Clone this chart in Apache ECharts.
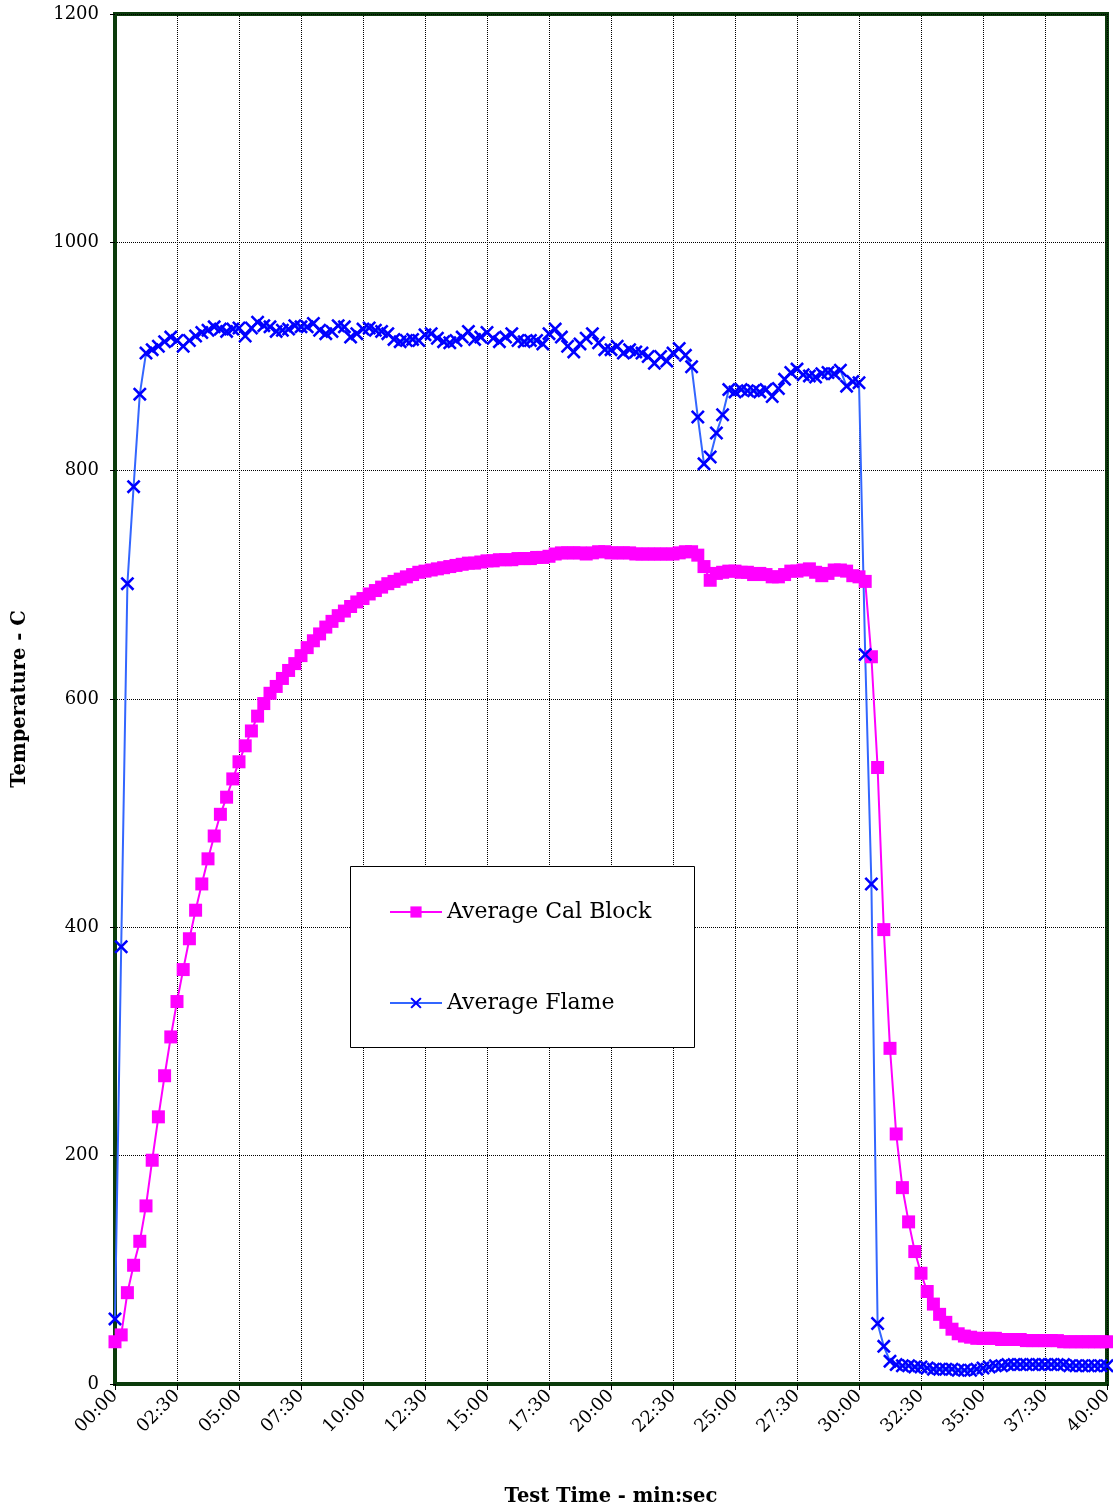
<!DOCTYPE html>
<html><head><meta charset="utf-8">
<script src="https://cdn.jsdelivr.net/npm/echarts@6/dist/echarts.min.js"></script>
<style>html,body{margin:0;padding:0;background:#fff}#c{width:1113px;height:1511px}</style>
</head><body><div id="c"></div>
<script>
// Sample times every 15 s from 00:00 to 40:00 (category labels)
const timeLabels = [];
for (let i = 0; i <= 160; i++) {
  const s = i * 15;
  timeLabels.push(String(Math.floor(s / 60)).padStart(2, '0') + ':' + String(s % 60).padStart(2, '0'));
}

const calBlock = [
  37, 43, 80, 104, 125, 156, 196, 234, 270, 304,
  335, 363, 390, 415, 438, 460, 480, 499, 514, 530,
  545, 559, 572, 585, 596, 605, 611, 618, 625, 631,
  638, 645, 651, 657, 663, 668, 673, 677, 681, 685,
  688, 692, 695, 698, 701, 703, 705, 707, 709, 711,
  712, 713, 714, 715, 716, 717, 718, 719, 719, 720,
  721, 721, 722, 722, 722, 723, 723, 723, 724, 724,
  725, 727, 728, 728, 728, 728, 727, 728, 729, 729,
  728, 728, 728, 728, 727, 727, 727, 727, 727, 727,
  727, 728, 729, 729, 726, 716, 704, 710, 711, 712,
  712, 711, 711, 709, 710, 709, 707, 707, 709, 712,
  712, 713, 714, 711, 708, 710, 713, 713, 712, 708,
  707, 703, 637, 540, 398, 294, 219, 172, 142, 116,
  97, 81, 70, 61, 54, 48, 44, 42, 41, 40,
  40, 40, 40, 39, 39, 39, 39, 38, 38, 38,
  38, 38, 38, 37, 37, 37, 37, 37, 37, 37, 37
];

const flame = [
  57, 383, 701, 786, 867, 903, 906, 909, 913, 917,
  914, 909, 914, 918, 921, 923, 926, 924, 922, 924,
  925, 918, 925, 930, 927, 926, 922, 923, 924, 927,
  926, 926, 929, 923, 920, 922, 927, 926, 917, 920,
  924, 925, 923, 922, 920, 915, 913, 914, 915, 914,
  919, 920, 916, 913, 912, 914, 917, 922, 915, 917,
  921, 916, 913, 917, 920, 914, 913, 914, 914, 911,
  920, 924, 917, 909, 904, 911, 916, 920, 912, 906,
  906, 909, 903, 906, 904, 903, 900, 894, 900, 896,
  903, 907, 901, 891, 847, 806, 812, 833, 849, 871,
  869, 871, 870, 870, 869, 871, 865, 872, 880, 886,
  889, 884, 883, 882, 885, 886, 885, 888, 874, 878,
  877, 639, 438, 53, 33, 20, 17, 16, 16, 15,
  15, 14, 13, 13, 13, 13, 12, 12, 12, 13,
  14, 15, 16, 16, 17, 17, 17, 17, 17, 17,
  17, 17, 17, 17, 16, 16, 16, 16, 16, 16, 16
];

const seriesNames = ['Average Cal Block', 'Average Flame'];
const yMin = 0, yMax = 1200, yStep = 200;
const xLabelEvery = 10; // one label per 2:30

const FONT = 'DejaVu Serif';
const FRAME = '#0b3b0b';
const XMARK = 'path://M0,1.3L1.3,0L5,3.7L8.7,0L10,1.3L6.3,5L10,8.7L8.7,10L5,6.3L1.3,10L0,8.7L3.7,5Z';

const chart = echarts.init(document.getElementById('c'), null, {renderer: 'canvas'});
chart.setOption({
  animation: false,
  backgroundColor: '#fff',
  grid: {left: 115, right: 6, top: 14, bottom: 127, containLabel: false, outerBoundsMode: 'none',
         show: true, borderColor: FRAME, borderWidth: 4, backgroundColor: 'transparent'},
  xAxis: {
    type: 'category', data: timeLabels, boundaryGap: false,
    name: 'Test Time - min:sec', nameLocation: 'middle', nameGap: 103,
    nameTextStyle: {fontFamily: FONT, fontSize: 19.5, fontWeight: 'bold', color: '#000'},
    axisLine: {show: true, lineStyle: {color: FRAME, width: 4}},
    axisTick: {show: true, interval: xLabelEvery - 1, length: 6, lineStyle: {color: '#000', width: 1}},
    axisLabel: {interval: xLabelEvery - 1, rotate: 45, margin: 9, fontFamily: FONT, fontSize: 18, color: '#000'},
    splitLine: {show: true, interval: xLabelEvery - 1, lineStyle: {color: '#000', width: 1, type: [1, 1]}}
  },
  yAxis: {
    type: 'value', min: yMin, max: yMax, interval: yStep,
    name: 'Temperature - C', nameLocation: 'middle', nameGap: 85, nameRotate: 90,
    nameTextStyle: {fontFamily: FONT, fontSize: 19.5, fontWeight: 'bold', color: '#000'},
    axisLine: {show: true, lineStyle: {color: FRAME, width: 4}},
    axisTick: {show: true, length: 5, lineStyle: {color: '#000', width: 1}},
    axisLabel: {margin: 16, fontFamily: FONT, fontSize: 18, color: '#000', formatter: v => String(v)},
    splitLine: {show: true, lineStyle: {color: '#000', width: 1, type: [1, 1]}}
  },
  legend: {
    data: seriesNames, orient: 'vertical', left: 384, top: 896,
    itemWidth: 52, itemHeight: 14, itemGap: 69,
    textStyle: {fontFamily: FONT, fontSize: 22, color: '#000', lineHeight: 22},
    z: 20
  },
  graphic: [{
    type: 'rect', left: 350, top: 866, z: 15,
    shape: {width: 344, height: 181},
    style: {fill: '#fff', stroke: '#000', lineWidth: 1}
  }],
  series: [
    {
      name: seriesNames[0], type: 'line', data: calBlock,
      symbol: 'rect', symbolSize: 13, showAllSymbol: true,
      lineStyle: {color: '#ff00ff', width: 2},
      itemStyle: {color: '#ff00ff'},
      emphasis: {disabled: true}
    },
    {
      name: seriesNames[1], type: 'line', data: flame,
      symbol: XMARK, symbolSize: 14, showAllSymbol: true,
      lineStyle: {color: '#3366ff', width: 2},
      itemStyle: {color: '#0000ff'},
      emphasis: {disabled: true}
    }
  ]
});
</script></body></html>
